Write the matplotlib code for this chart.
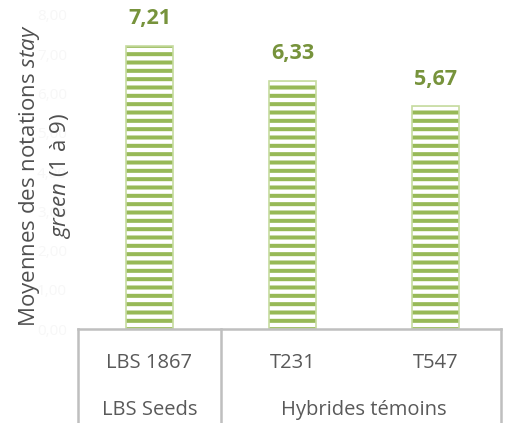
import matplotlib
matplotlib.use("Agg")
import matplotlib.pyplot as plt
from matplotlib.lines import Line2D

categories = ["LBS 1867", "T231", "T547"]
values = [7.21, 6.33, 5.67]
value_labels = ["7,21", "6,33", "5,67"]
groups = ["LBS Seeds", "Hybrides témoins"]
group_spans = [(0, 0), (1, 2)]
yticks = [0, 1, 2, 3, 4, 5, 6, 7, 8]

plt.rcParams['font.family'] = ['Open Sans', 'DejaVu Sans']
plt.rcParams['mathtext.fontset'] = 'custom'
plt.rcParams['mathtext.rm'] = 'Open Sans'
plt.rcParams['mathtext.it'] = 'Open Sans:italic'
plt.rcParams['hatch.linewidth'] = 2.9

W, H = 508, 423
fig = plt.figure(figsize=(W / 100, H / 100), dpi=100)
x0, x1 = 78, 507
y0, y1 = 329, 15
ax = fig.add_axes([x0 / W, (H - y0) / H, (x1 - x0) / W, (y0 - y1) / H])

xs = list(range(len(categories)))
bar_w = 0.33
ax.bar(xs, values, width=bar_w, color='white', edgecolor='#97b957',
       hatch='--', linewidth=0, zorder=2)
ax.bar(xs, values, width=bar_w, fill=False, edgecolor='#c6dba0',
       linewidth=1.2, zorder=3)

for x, v, lab in zip(xs, values, value_labels):
    ax.annotate(lab, (x, v), xytext=(0, 12), textcoords='offset points',
                ha='center', va='bottom', fontsize=15.5, fontweight='bold',
                color='#77933c')

ax.set_xlim(-0.5, 2.5)
ax.set_ylim(0, 8)
ax.set_yticks(yticks)
ax.set_yticklabels([f"{t:.2f}".replace('.', ',') for t in yticks],
                   color='#f7f7f7', fontsize=11)
ax.tick_params(axis='y', length=0, pad=8)
ax.set_xticks([])
for s in ax.spines.values():
    s.set_visible(False)

fig.text(45 / W, (H - 176) / H,
         "Moyennes des notations $\\mathit{stay}$\n$\\mathit{green}$ (1 à 9)",
         rotation=90, ha='center', va='center', fontsize=16,
         color='#505050', linespacing=1.3)

# multi-level category axis
line_c = '#bfbfbf'
trans = ax.get_xaxis_transform()
right_edge = 2.46
ax.add_line(Line2D([-0.5, right_edge], [0, 0], transform=trans, color=line_c,
                   lw=1.8, clip_on=False, zorder=4))
for xv in [-0.5, 0.5, right_edge]:
    ax.add_line(Line2D([xv, xv], [0, -0.5], transform=trans, color=line_c,
                       lw=1.8, clip_on=False, zorder=4))

for x, c in zip(xs, categories):
    ax.text(x, -0.109, c, transform=trans, ha='center', va='center',
            fontsize=14.5, color='#595959')
for g, (a, b) in zip(groups, group_spans):
    ax.text((a + b) / 2, -0.258, g, transform=trans, ha='center', va='center',
            fontsize=14.5, color='#595959')

fig.savefig("out.png", dpi=100)
